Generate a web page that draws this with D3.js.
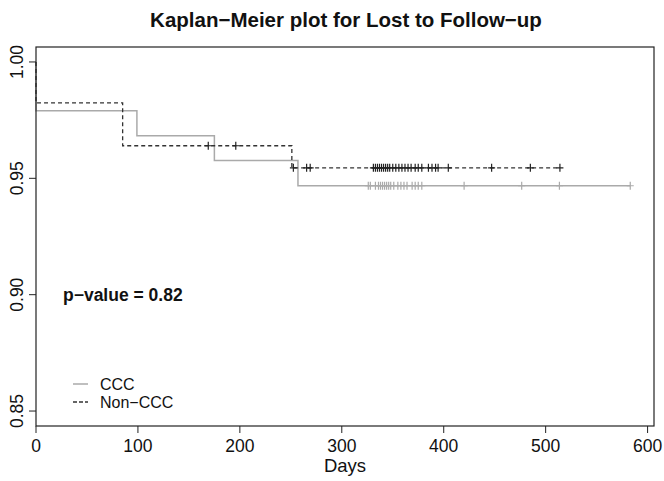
<!DOCTYPE html>
<html>
<head>
<meta charset="utf-8">
<script src="https://d3js.org/d3.v7.min.js"></script>
<style>
  body { margin: 0; background: #fff; }
  svg { display: block; font-family: "Liberation Sans", Arial, sans-serif; }
</style>
</head>
<body>
<svg></svg>
<script>
const width = 664;
const height = 481;

// CCC group (grey solid)
const cccStepTimes = [0, 99, 175, 257];
const cccStepSurv = [0.979, 0.9683, 0.9577, 0.9468];
const cccEnd = 583;
const cccCensor = [326, 328, 333, 336, 338, 340, 342, 344, 346, 348, 351, 355, 358, 361, 364,
                   369, 372, 375, 378.5, 420, 476.5, 513.5, 583];

// Non-CCC group (dashed)
const nonStepTimes = [0, 85, 251];
const nonStepSurv = [0.9824, 0.964, 0.9545];
const nonEnd = 514;
const nonCensor = [169, 196, 252.5, 265.5, 269,
                   331, 333, 335, 337, 339, 341, 343, 345, 347, 350, 353, 356, 359, 362, 365,
                   368, 372, 375, 378.5, 385, 388.5, 392, 394.5, 404.5, 447, 485, 514];

const xTicks = [0, 100, 200, 300, 400, 500, 600];
const yTicks = [0.85, 0.90, 0.95, 1.00];

const svg = d3.select('svg').attr('width', width).attr('height', height);

const x = d3.scaleLinear().domain([0, 606.3]).range([36, 654]);
const y = d3.scaleLinear().domain([0.844, 1.006]).range([425, 48]);

function stepPoints(times, surv, end) {
  const pts = [[0, 1]];
  times.forEach((t, i) => pts.push([t, surv[i]]));
  pts.push([end, surv[surv.length - 1]]);
  return pts;
}
function survAt(times, surv, t) {
  let s = 1;
  times.forEach((tt, i) => { if (tt <= t) s = surv[i]; });
  return s;
}

const line = d3.line()
  .x(d => x(d[0]))
  .y(d => y(d[1]))
  .curve(d3.curveStepAfter);

const plot = svg.append('g');

// CCC curve
plot.append('path')
  .datum(stepPoints(cccStepTimes, cccStepSurv, cccEnd))
  .attr('d', line)
  .attr('fill', 'none')
  .attr('stroke', '#aaa')
  .attr('stroke-width', 1.5);

plot.selectAll('.ccc-cens')
  .data(cccCensor)
  .enter().append('path')
  .attr('class', 'ccc-cens')
  .attr('d', t => {
    const cx = x(t), cy = y(survAt(cccStepTimes, cccStepSurv, t));
    return `M${cx - 3.5},${cy}H${cx + 3.5}M${cx},${cy - 4}V${cy + 4}`;
  })
  .attr('stroke', '#aaa')
  .attr('stroke-width', 1.2);

// Non-CCC curve
plot.append('path')
  .datum(stepPoints(nonStepTimes, nonStepSurv, nonEnd))
  .attr('d', line)
  .attr('fill', 'none')
  .attr('stroke', '#333')
  .attr('stroke-width', 1.3)
  .attr('stroke-dasharray', '4,3');

plot.selectAll('.non-cens')
  .data(nonCensor)
  .enter().append('path')
  .attr('class', 'non-cens')
  .attr('d', t => {
    const cx = x(t), cy = y(survAt(nonStepTimes, nonStepSurv, t));
    return `M${cx - 3.5},${cy}H${cx + 3.5}M${cx},${cy - 4}V${cy + 4}`;
  })
  .attr('stroke', '#222')
  .attr('stroke-width', 1.2);

// box
svg.append('rect')
  .attr('x', 36).attr('y', 47)
  .attr('width', 654 - 36).attr('height', 426 - 47)
  .attr('fill', 'none')
  .attr('stroke', '#222')
  .attr('stroke-width', 1.2);

// x axis ticks
const xAxis = svg.append('g');
xAxis.selectAll('line')
  .data(xTicks).enter().append('line')
  .attr('x1', d => x(d)).attr('x2', d => x(d))
  .attr('y1', 426).attr('y2', 433)
  .attr('stroke', '#222');
xAxis.selectAll('text')
  .data(xTicks).enter().append('text')
  .attr('x', d => x(d)).attr('y', 452)
  .attr('text-anchor', 'middle')
  .attr('font-size', 17.5)
  .attr('fill', '#111')
  .text(d => d);

// y axis ticks
const yAxis = svg.append('g');
yAxis.selectAll('line')
  .data(yTicks).enter().append('line')
  .attr('x1', 29).attr('x2', 36)
  .attr('y1', d => y(d)).attr('y2', d => y(d))
  .attr('stroke', '#222');
yAxis.selectAll('text')
  .data(yTicks).enter().append('text')
  .attr('transform', d => `translate(23,${y(d)}) rotate(-90)`)
  .attr('text-anchor', 'middle')
  .attr('font-size', 17.5)
  .attr('fill', '#111')
  .text(d => d.toFixed(2));

// titles
svg.append('text')
  .attr('x', 346).attr('y', 27)
  .attr('text-anchor', 'middle')
  .attr('font-size', 20.5)
  .attr('font-weight', 'bold')
  .attr('fill', '#111')
  .text('Kaplan\u2212Meier plot for Lost to Follow\u2212up');

svg.append('text')
  .attr('x', 345).attr('y', 472)
  .attr('text-anchor', 'middle')
  .attr('font-size', 18.5)
  .attr('fill', '#111')
  .text('Days');

svg.append('text')
  .attr('x', 63).attr('y', 301)
  .attr('font-size', 17.5)
  .attr('font-weight', 'bold')
  .attr('fill', '#111')
  .text('p\u2212value = 0.82');

// legend
const legend = svg.append('g');
legend.append('line')
  .attr('x1', 73).attr('x2', 88).attr('y1', 384).attr('y2', 384)
  .attr('stroke', '#aaa').attr('stroke-width', 1.5);
legend.append('line')
  .attr('x1', 73).attr('x2', 88).attr('y1', 402).attr('y2', 402)
  .attr('stroke', '#333').attr('stroke-width', 1.3)
  .attr('stroke-dasharray', '4,2');
legend.append('text')
  .attr('x', 100).attr('y', 389.5)
  .attr('font-size', 16).attr('fill', '#111')
  .text('CCC');
legend.append('text')
  .attr('x', 100).attr('y', 408)
  .attr('font-size', 16).attr('fill', '#111')
  .text('Non\u2212CCC');
</script>
</body>
</html>
